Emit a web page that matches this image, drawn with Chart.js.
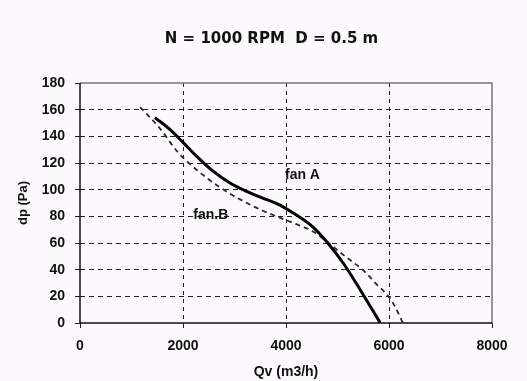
<!DOCTYPE html>
<html>
<head>
<meta charset="utf-8">
<script src="https://cdn.jsdelivr.net/npm/chart.js@4.4.1/dist/chart.umd.min.js"></script>
<style>
  html, body { margin: 0; padding: 0; background: #fcfafc; }
  #wrap { width: 527px; height: 381px; }
</style>
</head>
<body>
<div id="wrap"><canvas id="myChart"></canvas></div>
<script>
  // Fan curves (Qv in m3/h, dp in Pa)
  const fanAQv = [1456, 1750, 2000, 2265, 2590, 2913, 3236, 3560, 3820, 4140, 4470, 4790, 5110, 5440, 5830];
  const fanADp = [154, 145, 135.5, 125, 113.7, 105, 98.7, 93.5, 89.5, 82.5, 73.7, 61, 45, 25, 0];

  const fanBQv = [1165, 1550, 1880, 2140, 2390, 2650, 2910, 3240, 3560, 3880, 4140, 4530, 4790, 5180, 5500, 5760, 6020, 6120, 6270];
  const fanBDp = [162, 146, 129, 119, 111, 103.5, 97, 90, 84, 79, 75, 68.5, 61, 49, 39.5, 29, 18.5, 12, 0];

  const xTicks = [0, 2000, 4000, 6000, 8000];
  const yTicks = [0, 20, 40, 60, 80, 100, 120, 140, 160, 180];

  // curve labels, placed in data units
  const curveLabels = [
    { text: 'fan A', qv: 3980, dp: 111 },
    { text: 'fan.B', qv: 2200, dp: 81 }
  ];

  function toPoints(xs, ys) {
    return xs.map((x, i) => ({ x: x, y: ys[i] }));
  }

  // solid frame round the plot: black axes left/bottom, grey top/right
  const framePlugin = {
    id: 'frame',
    beforeDatasetsDraw(chart) {
      const { ctx, chartArea: a } = chart;
      ctx.save();
      ctx.lineWidth = 1.5;
      ctx.strokeStyle = '#777';
      ctx.beginPath();
      ctx.moveTo(a.left, a.top);
      ctx.lineTo(a.right, a.top);
      ctx.lineTo(a.right, a.bottom);
      ctx.stroke();
      ctx.strokeStyle = '#111';
      ctx.beginPath();
      ctx.moveTo(a.left, a.top);
      ctx.lineTo(a.left, a.bottom);
      ctx.lineTo(a.right, a.bottom);
      ctx.stroke();
      ctx.restore();
    }
  };

  const labelPlugin = {
    id: 'curveLabels',
    afterDatasetsDraw(chart) {
      const ctx = chart.ctx;
      ctx.save();
      ctx.font = 'bold 14px "Liberation Sans", Arial, sans-serif';
      ctx.fillStyle = '#111';
      ctx.textAlign = 'left';
      ctx.textBaseline = 'middle';
      curveLabels.forEach(l => {
        ctx.fillText(l.text, chart.scales.x.getPixelForValue(l.qv), chart.scales.y.getPixelForValue(l.dp));
      });
      ctx.restore();
    }
  };

  const tickFont = { family: '"Liberation Sans", Arial, sans-serif', size: 14, weight: 'bold' };

  new Chart(document.getElementById('myChart'), {
    type: 'scatter',
    data: {
      datasets: [{
        label: 'fan A',
        data: toPoints(fanAQv, fanADp),
        showLine: true,
        borderColor: '#000',
        borderWidth: 3,
        pointRadius: 0,
        cubicInterpolationMode: 'monotone'
      }, {
        label: 'fan.B',
        data: toPoints(fanBQv, fanBDp),
        showLine: true,
        borderColor: '#2a2a2a',
        borderWidth: 1.8,
        borderDash: [5, 4],
        pointRadius: 0,
        cubicInterpolationMode: 'monotone'
      }]
    },
    options: {
      responsive: true,
      maintainAspectRatio: false,
      animation: false,
      layout: { padding: { left: 16, right: 0, top: 0, bottom: 0 } },
      plugins: {
        legend: { display: false },
        tooltip: { enabled: false },
        title: {
          display: true,
          text: 'N = 1000 RPM  D = 0.5 m',
          color: '#111',
          font: { family: '"DejaVu Sans", sans-serif', size: 15, weight: 'bold' },
          padding: { top: 30, bottom: 35 }
        }
      },
      scales: {
        x: {
          type: 'linear',
          min: 0, max: 8000,
          afterBuildTicks: s => { s.ticks = xTicks.map(v => ({ value: v })); },
          afterFit: s => { s.height = 58; },
          ticks: { color: '#111', font: tickFont, padding: 10, maxRotation: 0, callback: v => String(v) },
          grid: {
            color: c => (c.tick && (c.tick.value === 8000 || c.tick.value === 0)) ? 'rgba(0,0,0,0)' : '#222',
            lineWidth: 1,
            tickLength: 5,
            tickColor: '#222'
          },
          border: { display: false, dash: [4, 4] },
          title: {
            display: true,
            text: 'Qv (m3/h)',
            color: '#111',
            font: { family: '"Liberation Sans", Arial, sans-serif', size: 14, weight: 'bold' },
            padding: { top: 0, bottom: 0 }
          }
        },
        y: {
          type: 'linear',
          min: 0, max: 180,
          afterBuildTicks: s => { s.ticks = yTicks.map(v => ({ value: v })); },
          afterFit: s => { s.width = 64; },
          ticks: { color: '#111', font: tickFont, padding: 10, callback: v => String(v) },
          grid: {
            color: c => (c.tick && (c.tick.value === 180 || c.tick.value === 0)) ? 'rgba(0,0,0,0)' : '#222',
            lineWidth: 1,
            tickLength: 5,
            tickColor: '#222'
          },
          border: { display: false, dash: [5, 4] },
          title: {
            display: true,
            text: 'dp (Pa)',
            color: '#111',
            font: { family: '"Liberation Sans", Arial, sans-serif', size: 13, weight: 'bold' },
            padding: { top: 0, bottom: 0 }
          }
        },
        y2: {
          type: 'linear',
          position: 'right',
          min: 0, max: 180,
          afterFit: s => { s.width = 35; },
          ticks: { display: false },
          grid: { display: false },
          border: { display: false }
        }
      }
    },
    plugins: [framePlugin, labelPlugin]
  });
</script>
</body>
</html>
